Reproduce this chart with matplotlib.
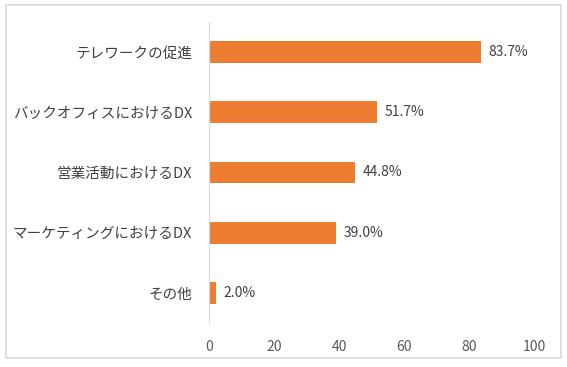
import numpy as np
import matplotlib.pyplot as plt
from matplotlib.patches import Rectangle

plt.rcParams['font.family'] = ['Noto Sans CJK JP', 'DejaVu Sans']

# data (top to bottom)
labels = ['テレワークの促進', 'バックオフィスにおけるDX', '営業活動におけるDX',
          'マーケティングにおけるDX', 'その他']
values = [83.7, 51.7, 44.8, 39.0, 2.0]
xticks = [0, 20, 40, 60, 80, 100]

W, H = 567, 367
fig = plt.figure(figsize=(W / 100, H / 100), dpi=100)

# outer frame
fig.patches.append(Rectangle((6 / W, 1 - 358 / H), 555 / W, 353 / H,
                             transform=fig.transFigure, fill=False,
                             edgecolor='#D9D9D9', linewidth=1.2))

ax = fig.add_axes([209 / W, 1 - 323 / H, 325 / W, 301 / H])

y = np.arange(len(labels))
ax.barh(y, values, height=0.36, color='#ED7D31')

for yi, v in zip(y, values):
    ax.text(v + 2.4, yi, '%.1f%%' % v, va='center', ha='left',
            fontsize=10, color='#404040')

ax.set_xlim(0, 100)
ax.set_ylim(len(labels) - 0.5, -0.5)
ax.set_yticks(y)
ax.set_yticklabels(labels, fontsize=10.5, color='#404040')
ax.set_xticks(xticks)
ax.set_xticklabels([str(t) for t in xticks], fontsize=10, color='#595959')
ax.tick_params(axis='both', length=0)
ax.tick_params(axis='y', pad=12)
ax.tick_params(axis='x', pad=12)

for s in ['top', 'right', 'bottom']:
    ax.spines[s].set_visible(False)
ax.spines['left'].set_color('#D9D9D9')

fig.savefig('out.png', dpi=100)
